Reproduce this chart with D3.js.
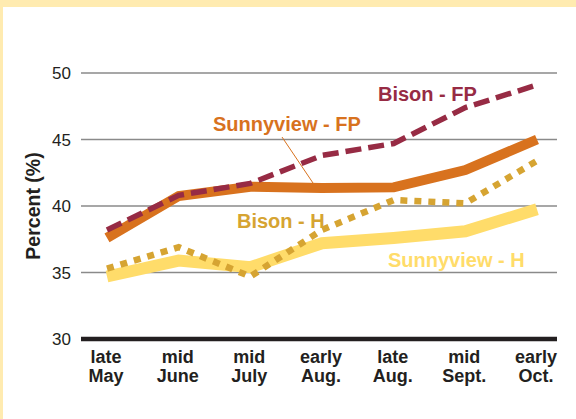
<!DOCTYPE html>
<html lang="en">
<head>
    <meta charset="UTF-8">
    <title>Percent</title>
    <style>
        body {
            margin: 0;
            background: #ffebb0;
            font-family: "Liberation Sans", Arial, Helvetica, sans-serif;
        }
        svg {
            display: block;
        }
        .tick-y {
            font-size: 17px;
            text-anchor: end;
            fill: #231f20;
        }
        .tick-x {
            font-size: 18px;
            font-weight: bold;
            text-anchor: middle;
            fill: #231f20;
        }
        .series-label {
            font-size: 20px;
            font-weight: bold;
        }
    </style>
</head>
<body>
<script src="https://d3js.org/d3.v7.min.js"></script>
<script>
    let periods = ['late May', 'mid June', 'mid July', 'early Aug.', 'late Aug.', 'mid Sept.', 'early Oct.']
    let yTicks = [30, 35, 40, 45, 50]
    let sunnyviewFP = [37.6, 40.75, 41.45, 41.35, 41.4, 42.7, 45.0]
    let bisonFP = [38.2, 40.8, 41.7, 43.8, 44.7, 47.4, 49.1]
    let bisonH = [35.3, 36.9, 34.7, 38.2, 40.45, 40.2, 43.4]
    let sunnyviewH = [34.7, 35.9, 35.4, 37.2, 37.6, 38.1, 39.75]

    let width = 576
    let height = 419

    var svg = d3.select('body').append('svg')
        .attr('width', width)
        .attr('height', height)

    // white panel over yellow frame
    svg.append('rect')
        .attr('x', 3)
        .attr('y', 7)
        .attr('width', width - 3)
        .attr('height', height - 7)
        .attr('fill', '#ffffff')

    var x = d3.scalePoint()
        .domain(periods)
        .range([107, 537])

    var y = d3.scaleLinear()
        .domain([30, 50])
        .range([339, 73])

    // grid lines
    svg.append('g')
        .selectAll('line')
        .data(yTicks)
        .enter()
        .append('line')
        .attr('x1', 81)
        .attr('x2', 557)
        .attr('y1', d => y(d))
        .attr('y2', d => y(d))
        .attr('stroke', d => d === 30 ? '#231f20' : '#8a8a8a')
        .attr('stroke-width', d => d === 30 ? 4.5 : 1.6)

    svg.append('g')
        .selectAll('text')
        .data(yTicks)
        .enter()
        .append('text')
        .attr('class', 'tick-y')
        .attr('x', 71)
        .attr('y', d => y(d))
        .attr('dy', '0.36em')
        .text(d => d)

    // two-line category labels
    var xl = svg.append('g')
        .selectAll('text')
        .data(periods)
        .enter()
        .append('text')
        .attr('class', 'tick-x')
        .attr('transform', d => 'translate(' + (x(d) - 1) + ',0)')
    xl.append('tspan')
        .attr('x', 0)
        .attr('y', 363)
        .text(d => d.split(' ')[0])
    xl.append('tspan')
        .attr('x', 0)
        .attr('y', 382)
        .text(d => d.split(' ')[1])

    svg.append('text')
        .attr('transform', 'translate(40,206) rotate(-90)')
        .attr('text-anchor', 'middle')
        .attr('font-size', '19.5px')
        .attr('font-weight', 'bold')
        .attr('fill', '#231f20')
        .text('Percent (%)')

    var line = d3.line()
        .x((d, i) => x(periods[i]))
        .y(d => y(d))

    let series = [
        {values: sunnyviewH, color: '#ffdc6a', w: 12, dash: null},
        {values: sunnyviewFP, color: '#d8721e', w: 10, dash: null},
        {values: bisonH, color: '#d6a432', w: 6.5, dash: '7,7'},
        {values: bisonFP, color: '#972b44', w: 5.5, dash: '16,7'}
    ]

    svg.append('g')
        .selectAll('path')
        .data(series)
        .enter()
        .append('path')
        .attr('d', d => line(d.values))
        .attr('fill', 'none')
        .attr('stroke', d => d.color)
        .attr('stroke-width', d => d.w)
        .attr('stroke-dasharray', d => d.dash)
        .attr('stroke-linejoin', 'miter')

    // leader line for Sunnyview - FP
    svg.append('line')
        .attr('x1', 282)
        .attr('y1', 137)
        .attr('x2', 313)
        .attr('y2', 183)
        .attr('stroke', '#d8721e')
        .attr('stroke-width', 1)

    let labels = [
        {text: 'Bison - FP', x: 378, y: 101, color: '#972b44'},
        {text: 'Sunnyview - FP', x: 213, y: 131, color: '#d8721e'},
        {text: 'Bison - H', x: 237, y: 228, color: '#d6a432'},
        {text: 'Sunnyview - H', x: 388, y: 267, color: '#ffdc6a'}
    ]

    svg.append('g')
        .selectAll('text')
        .data(labels)
        .enter()
        .append('text')
        .attr('class', 'series-label')
        .attr('x', d => d.x)
        .attr('y', d => d.y)
        .attr('fill', d => d.color)
        .text(d => d.text)
</script>
</body>
</html>
